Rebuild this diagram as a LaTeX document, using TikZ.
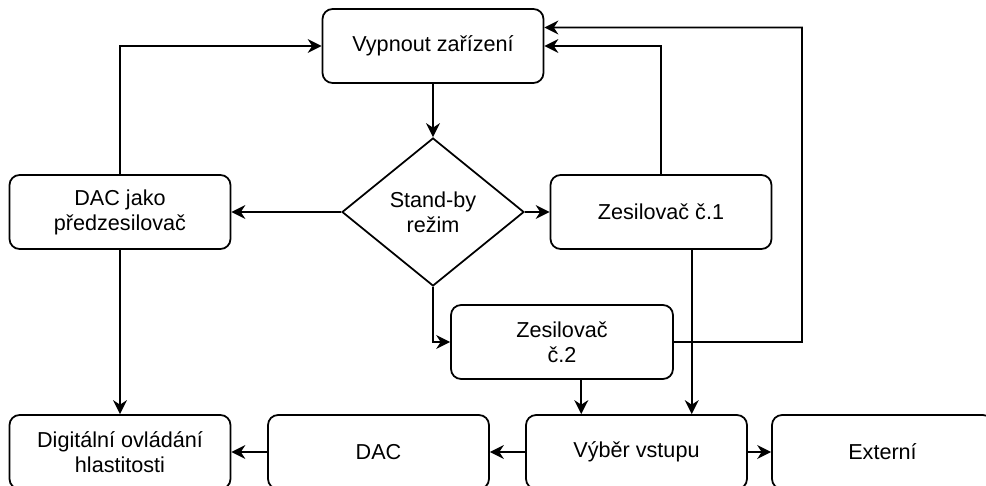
\documentclass[tikz,border=0pt]{standalone}
\usepackage{fontspec}
\setmainfont{Liberation Sans}
\usetikzlibrary{arrows.meta, shapes.geometric}

\begin{document}
\begin{tikzpicture}[
    x=0.02cm, y=-0.02cm,
    box/.style={draw, line width=1pt, rounded corners=0.2cm, minimum width=4.42cm, minimum height=1.48cm, align=center, font=\fontsize{12.3pt}{14.2pt}\selectfont},
    volba/.style={draw, line width=1pt, diamond, aspect=1.23, inner sep=0pt, minimum width=3.64cm, minimum height=2.96cm, align=center, font=\fontsize{12.3pt}{14.2pt}\selectfont},
    arrow/.style={line width=1pt, -{Stealth[length=0.28cm, width=0.28cm]}}
]
    \useasboundingbox (0,0) rectangle (986,486);

    % Prvky
    \node[box] (vypnout) at (433, 46) {Vypnout zařízení};
    \node[volba] (rezim) at (433, 212) {Stand-by\\režim};
    \node[box] (dacpre) at (120, 212) {DAC jako\\předzesilovač};
    \node[box] (zes1) at (661, 212) {Zesilovač č.1};
    \node[box, minimum width=4.44cm] (zes2) at (562, 342) {Zesilovač\\č.2};
    \node[box] (digital) at (120, 452) {Digitální ovládání\\hlastitosti};
    \node[box] (dac) at (378.5, 452) {DAC};
    \node[box] (vyber) at (636.5, 452) {Výběr vstupu};
    \node[box] (externi) at (882.5, 452) {Externí};

    % Pomocné body
    \coordinate (obchvat) at (802, 27.5);
    \coordinate (vstupA) at ([xshift=-1.105cm]vyber.north);
    \coordinate (vstupB) at ([xshift=1.105cm]vyber.north);

    % Šipky z režimu
    \draw[arrow] (vypnout) -- (rezim);
    \draw[arrow] (rezim) -- (dacpre);
    \draw[arrow] (rezim) -- (zes1);
    \draw[arrow] (rezim.south) |- (zes2.west);

    % Návrat k vypnutí
    \draw[arrow] (dacpre.north) |- (vypnout.west);
    \draw[arrow] (zes1.north) |- (vypnout.east);
    \draw[arrow] (zes2.east) -| (obchvat) -- ([yshift=0.37cm]vypnout.east);

    % Spodní řada
    \draw[arrow] (dacpre) -- (digital);
    \draw[arrow] (zes2.south -| vstupA) -- (vstupA);
    \draw[arrow] (zes1.south -| vstupB) -- (vstupB);
    \draw[arrow] (vyber) -- (dac);
    \draw[arrow] (dac) -- (digital);
    \draw[arrow] (vyber) -- (externi);
\end{tikzpicture}
\end{document}
